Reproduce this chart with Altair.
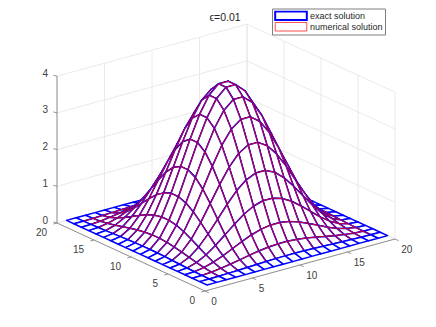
import altair as alt
import pandas as pd

alt.data_transformers.disable_max_rows()

u01 = [0, 0, 0, 0, 0, 0, 0, 0, 0, 0, 0, 0, 0, 0, 0, 0, 0, 0, 0, 0]
u02 = [0, .001, .005, .012, .021, .031, .042, .052, .059, .063, .063, .059, .052, .042, .031, .021, .012, .005, .001, 0]
u03 = [0, .005, .022, .054, .097, .147, .198, .244, .278, .296, .296, .278, .244, .198, .147, .097, .054, .022, .005, 0]
u04 = [0, .012, .054, .130, .235, .356, .478, .589, .671, .715, .715, .671, .589, .478, .356, .235, .130, .054, .012, 0]
u05 = [0, .021, .097, .235, .423, .641, .862, 1.060, 1.208, 1.287, 1.287, 1.208, 1.060, .862, .641, .423, .235, .097, .021, 0]
u06 = [0, .031, .147, .356, .641, .971, 1.305, 1.606, 1.830, 1.950, 1.950, 1.830, 1.606, 1.305, .971, .641, .356, .147, .031, 0]
u07 = [0, .042, .198, .478, .862, 1.305, 1.755, 2.159, 2.460, 2.622, 2.622, 2.460, 2.159, 1.755, 1.305, .862, .478, .198, .042, 0]
u08 = [0, .052, .244, .589, 1.060, 1.606, 2.159, 2.657, 3.027, 3.226, 3.226, 3.027, 2.657, 2.159, 1.606, 1.060, .589, .244, .052, 0]
u09 = [0, .059, .278, .671, 1.208, 1.830, 2.460, 3.027, 3.449, 3.676, 3.676, 3.449, 3.027, 2.460, 1.830, 1.208, .671, .278, .059, 0]
u10 = [0, .063, .296, .715, 1.287, 1.950, 2.622, 3.226, 3.676, 3.917, 3.917, 3.676, 3.226, 2.622, 1.950, 1.287, .715, .296, .063, 0]
u11 = [0, .063, .296, .715, 1.287, 1.950, 2.622, 3.226, 3.676, 3.917, 3.917, 3.676, 3.226, 2.622, 1.950, 1.287, .715, .296, .063, 0]
u12 = [0, .059, .278, .671, 1.208, 1.830, 2.460, 3.027, 3.449, 3.676, 3.676, 3.449, 3.027, 2.460, 1.830, 1.208, .671, .278, .059, 0]
u13 = [0, .052, .244, .589, 1.060, 1.606, 2.159, 2.657, 3.027, 3.226, 3.226, 3.027, 2.657, 2.159, 1.606, 1.060, .589, .244, .052, 0]
u14 = [0, .042, .198, .478, .862, 1.305, 1.755, 2.159, 2.460, 2.622, 2.622, 2.460, 2.159, 1.755, 1.305, .862, .478, .198, .042, 0]
u15 = [0, .031, .147, .356, .641, .971, 1.305, 1.606, 1.830, 1.950, 1.950, 1.830, 1.606, 1.305, .971, .641, .356, .147, .031, 0]
u16 = [0, .021, .097, .235, .423, .641, .862, 1.060, 1.208, 1.287, 1.287, 1.208, 1.060, .862, .641, .423, .235, .097, .021, 0]
u17 = [0, .012, .054, .130, .235, .356, .478, .589, .671, .715, .715, .671, .589, .478, .356, .235, .130, .054, .012, 0]
u18 = [0, .005, .022, .054, .097, .147, .198, .244, .278, .296, .296, .278, .244, .198, .147, .097, .054, .022, .005, 0]
u19 = [0, .001, .005, .012, .021, .031, .042, .052, .059, .063, .063, .059, .052, .042, .031, .021, .012, .005, .001, 0]
u20 = [0, 0, 0, 0, 0, 0, 0, 0, 0, 0, 0, 0, 0, 0, 0, 0, 0, 0, 0, 0]
exact = [u01, u02, u03, u04, u05, u06, u07, u08, u09, u10,
         u11, u12, u13, u14, u15, u16, u17, u18, u19, u20]

tick_values = [0, 5, 10, 15, 20]
z_ticks = [0, 1, 2, 3, 4]
title_text = "\u03f5=0.01"
series = ["exact solution", "numerical solution"]
colors = ["#0000ff", "#ff0000"]
widths = [1.5, 0.85]

OX, OY = 205.0, 291.0
XV = (9.5, -2.6)
YV = (-7.4, -3.4)
ZV = 36.7


def proj(x, y, z=0.0):
    return (OX + x * XV[0] + y * YV[0], OY + x * XV[1] + y * YV[1] - z * ZV)


def seg(a, b, **kw):
    pa, pb = proj(*a), proj(*b)
    return dict(x=pa[0], y=pa[1], x2=pb[0], y2=pb[1], **kw)


# painter's order, far corner first
rows = []
n = len(exact)
for i in range(n - 2, -1, -1):
    for j in range(n - 2, -1, -1):
        corners = [(i, j), (i + 1, j), (i + 1, j + 1), (i, j + 1)]
        zs = [exact[a][b] for a, b in corners]
        for k, (a, b) in enumerate(corners):
            px, py = proj(a + 1, b + 1, exact[a][b])
            rows.append(dict(px=px, py=py, k=k, q=f"q{i}_{j}_a", c=colors[0], w=widths[0], f="white"))
        if min(zs) > 0:
            for k, (a, b) in enumerate(corners):
                px, py = proj(a + 1, b + 1, exact[a][b])
                rows.append(dict(px=px, py=py, k=k, q=f"q{i}_{j}_b", c=colors[1], w=widths[1], f="transparent"))
mesh_df = pd.DataFrame(rows)

grid = []
for v in tick_values:
    grid.append(seg((v, 20, 0), (v, 20, 4)))
    grid.append(seg((20, v, 0), (20, v, 4)))
    grid.append(seg((v, 0, 0), (v, 20, 0)))
    grid.append(seg((0, v, 0), (20, v, 0)))
for v in z_ticks:
    grid.append(seg((0, 20, v), (20, 20, v)))
    grid.append(seg((20, 20, v), (20, 0, v)))
grid_df = pd.DataFrame(grid)

axis_rows = [seg((0, 20, 0), (0, 20, 4)), seg((0, 0, 0), (20, 0, 0)), seg((0, 0, 0), (0, 20, 0))]
for v in tick_values:
    p = proj(v, 0)
    axis_rows.append(dict(x=p[0], y=p[1], x2=p[0] + 3.7, y2=p[1] + 1.7))
    p = proj(0, v)
    axis_rows.append(dict(x=p[0], y=p[1], x2=p[0] - 3.7, y2=p[1] + 1.0))
for v in z_ticks:
    p = proj(0, 20, v)
    axis_rows.append(dict(x=p[0], y=p[1], x2=p[0] - 3.7, y2=p[1] - 1.0))
axis_df = pd.DataFrame(axis_rows)

x_labels, yz_labels = [], []
for v in tick_values:
    p = proj(v, 0)
    x_labels.append(dict(x=p[0] + 6.2, y=p[1] + 11, t=str(v)))
    p = proj(0, v)
    yz_labels.append(dict(x=p[0] - 10, y=p[1] + 9.5, t=str(v)))
for v in z_ticks:
    p = proj(0, 20, v)
    yz_labels.append(dict(x=p[0] - 9, y=p[1] - 2.5, t=str(v)))

X = alt.X("x:Q", scale=alt.Scale(domain=[8, 428]), axis=None)
Y = alt.Y("y:Q", scale=alt.Scale(domain=[313, 8]), axis=None)

grid_layer = alt.Chart(grid_df).mark_rule(color="#e4e4e4", strokeWidth=0.8).encode(
    X, Y, x2="x2:Q", y2="y2:Q")
axis_layer = alt.Chart(axis_df).mark_rule(color="#7a7a7a", strokeWidth=0.8).encode(
    X, Y, x2="x2:Q", y2="y2:Q")
xlab_layer = alt.Chart(pd.DataFrame(x_labels)).mark_text(
    font="Liberation Sans", fontSize=10, color="#404040", align="left", baseline="middle"
).encode(X, Y, text="t:N")
yzlab_layer = alt.Chart(pd.DataFrame(yz_labels)).mark_text(
    font="Liberation Sans", fontSize=10, color="#404040", align="right", baseline="middle"
).encode(X, Y, text="t:N")

stroke_scale = alt.Scale(domain=series, range=colors)
width_scale = alt.Scale(domain=series, range=[2.0, 0.7])
legend = alt.Legend(
    orient="none", legendX=264, legendY=0.5, title=None,
    symbolType="M-1,-0.27H1V0.27H-1Z", symbolSize=1000,
    fillColor="white", strokeColor="#7f7f7f", padding=2,
    labelFont="Liberation Sans", labelFontSize=9, labelColor="#262626",
    clipHeight=10.5, rowPadding=0, labelOffset=2,
)
mesh_layer = alt.Chart(mesh_df).mark_line(
    interpolate="linear-closed", strokeJoin="round"
).encode(
    alt.X("px:Q", scale=alt.Scale(domain=[8, 428]), axis=None),
    alt.Y("py:Q", scale=alt.Scale(domain=[313, 8]), axis=None),
    detail="q:N",
    order="k:Q",
    stroke=alt.Stroke("c:N", scale=None),
    strokeWidth=alt.StrokeWidth("w:Q", scale=None),
    fill=alt.Fill("f:N", scale=None),
)
# carries the legend: one point per series, so it draws nothing in the plot
key_df = pd.DataFrame({"px": [100, 100], "py": [100, 100], "s": series})
key_layer = alt.Chart(key_df).mark_line(fill="white").encode(
    alt.X("px:Q", scale=alt.Scale(domain=[8, 428]), axis=None),
    alt.Y("py:Q", scale=alt.Scale(domain=[313, 8]), axis=None),
    stroke=alt.Stroke("s:N", scale=stroke_scale, legend=legend),
    strokeWidth=alt.StrokeWidth("s:N", scale=width_scale, legend=legend),
)

chart = alt.layer(grid_layer, axis_layer, mesh_layer, key_layer, xlab_layer, yzlab_layer).properties(
    width=420, height=305, padding=0, autosize="none",
    title=alt.TitleParams(title_text, anchor="middle", dx=7, dy=15, offset=0,
                          font="Liberation Sans", fontSize=10.5, fontWeight="normal", color="#262626"),
).configure_view(stroke=None).configure_legend(symbolBaseFillColor="white", symbolFillColor="white")
chart.save("out.html", embed_options={"renderer": "svg", "actions": False})
